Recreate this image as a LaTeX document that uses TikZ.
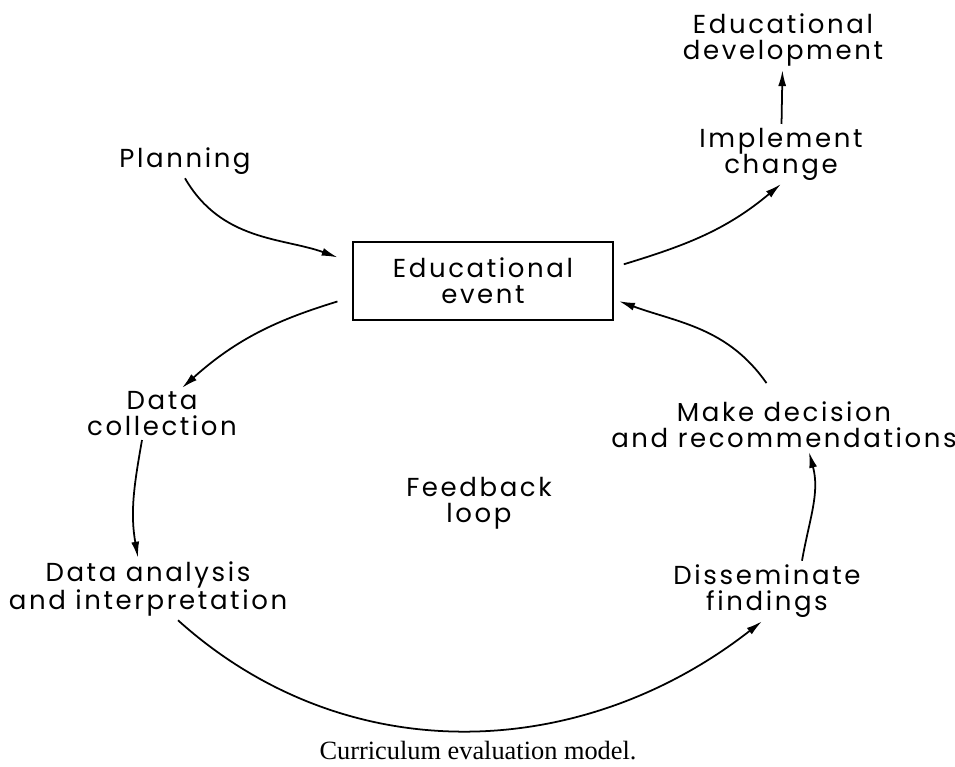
\documentclass[tikz,border=0pt]{standalone}
\usepackage{fontspec}
\setmainfont[LetterSpace=10]{Poppins}
\newfontfamily\captionserif{Liberation Serif}
\usepackage{tikz}
\usetikzlibrary{arrows.meta, positioning}
\tikzset{
  stage/.style={align=center, inner sep=2pt,
                font=\fontsize{14.8}{14.8}\selectfont},
  eventbox/.style={draw, line width=1.4pt, minimum width=5.2cm, minimum height=1.56cm,
                   align=center, font=\fontsize{14.8}{14.8}\selectfont},
  arrow/.style={-{Latex[length=3.2mm,width=1.6mm]}, line width=1pt}
}

\begin{document}
\begin{tikzpicture}
        \useasboundingbox (0,0) rectangle (19.1,15.32);

        \node[stage] (dev) at (15.66, 14.52) {Educational\\development};
        \node[stage] (impl) at (15.62, 12.24) {Implement\\change};
        \node[stage] (plan) at (3.7, 12.1) {Planning};
        \node[eventbox] (evt) at (9.66, 9.7) {Educational\\event};
        \node[stage] (coll) at (3.24, 7.04) {Data\\collection};
        \node[stage] (anal) at (2.96, 3.54) {Data analysis\\and interpretation};
        \node[stage] (feed) at (9.58, 5.26) {Feedback\\loop};
        \node[stage] (diss) at (15.34, 3.5) {Disseminate\\findings};
        \node[stage] (dec) at (15.68, 6.82) {Make decision\\and recommendations};
        \node[inner sep=0pt, font=\captionserif\fontsize{15}{16}\selectfont] (cap) at (9.56, 0.3) {Curriculum evaluation model.};

        % into and out of the event
        \draw[arrow, shorten >=3mm] (plan.south) to[out=-60,in=160] (evt.172);
        \draw[arrow, shorten <=2mm] (evt.6) to[out=17,in=-140] (impl.south);
        \draw[arrow] (impl) -- (dev);

        % feedback loop
        \draw[arrow, shorten <=3mm] (evt.187) to[out=197,in=42] ([xshift=4mm]coll.north);
        \draw[arrow] ([xshift=-4mm]coll.south) to[out=-100,in=100] ([xshift=-2mm]anal.north);
        \draw[arrow] ([xshift=6mm]anal.south) to[out=-42,in=-142] ([xshift=-1mm]diss.south);
        \draw[arrow] ([xshift=7mm]diss.north) to[out=80,in=-75] ([xshift=5mm]dec.south);
        \draw[arrow, shorten >=1mm] ([xshift=-3.5mm,yshift=3mm]dec.north) to[out=125,in=-20] (evt.352);
      \end{tikzpicture}
\end{document}
